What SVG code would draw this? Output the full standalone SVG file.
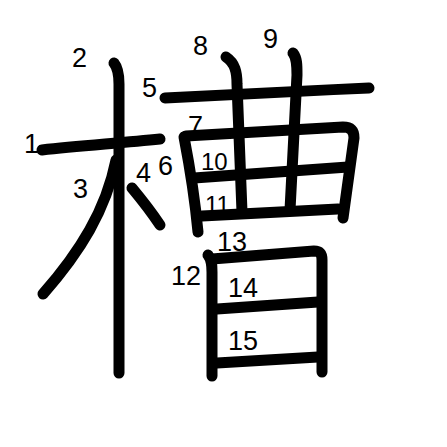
<svg xmlns="http://www.w3.org/2000/svg" width="447" height="447" viewBox="0 0 447 447">
<style>
.s{fill:none;stroke:#000;stroke-width:11;stroke-linecap:round;stroke-linejoin:round}
.n{font-family:"Liberation Sans",Arial,sans-serif;font-size:27px;fill:#000}
.m{font-family:"Liberation Sans",Arial,sans-serif;font-size:24px;fill:#000}
</style>
<rect width="447" height="447" fill="#fff"/>
<g id="strokes">
<path id="s1" class="s" d="M42,150 C80,146 120,143 160,139"/>
<path id="s2" class="s" d="M114,63 C118,68 119,74 119,84 L119,373"/>
<path id="s3" class="s" d="M116,160 C106,210 80,252 43,294"/>
<path id="s4" class="s" d="M132,188 C142,200 152,213 160,225"/>
<path id="s5" class="s" d="M165,98 C230,95 300,91 369,88"/>
<path id="s6" class="s" d="M184,137 C190,168 195,200 198,232"/>
<path id="s7" class="s" d="M186,136 L343,127 C351,127 354,131 354,138 L343,218"/>
<path id="s8" class="s" d="M226,57 C235,63 237,72 237,84 L242,212"/>
<path id="s9" class="s" d="M293,53 C297,58 297,65 297,75 L290,210"/>
<path id="s10" class="s" d="M194,178 L348,167"/>
<path id="s11" class="s" d="M202,216 L338,209"/>
<path id="s12" class="s" d="M208,255 C212,260 212,266 212,272 L212,376"/>
<path id="s13" class="s" d="M212,259 L314,251 C320,251 322,254 322,260 L322,372"/>
<path id="s14" class="s" d="M217,309 L318,302"/>
<path id="s15" class="s" d="M217,363 L318,357"/>
</g>
<g id="labels">
<text class="n" x="24" y="153">1</text>
<text class="n" x="72" y="67">2</text>
<text class="n" x="73" y="198">3</text>
<text class="n" x="136" y="182">4</text>
<text class="n" x="142" y="97">5</text>
<text class="n" x="158" y="175">6</text>
<text class="n" x="188" y="135">7</text>
<text class="n" x="193" y="55">8</text>
<text class="n" x="263" y="48">9</text>
<text class="m" x="201" y="170">10</text>
<text class="m" x="205" y="213">11</text>
<text class="n" x="171" y="285">12</text>
<text class="n" x="217" y="251">13</text>
<text class="n" x="228" y="297">14</text>
<text class="n" x="228" y="350">15</text>
</g>
</svg>
